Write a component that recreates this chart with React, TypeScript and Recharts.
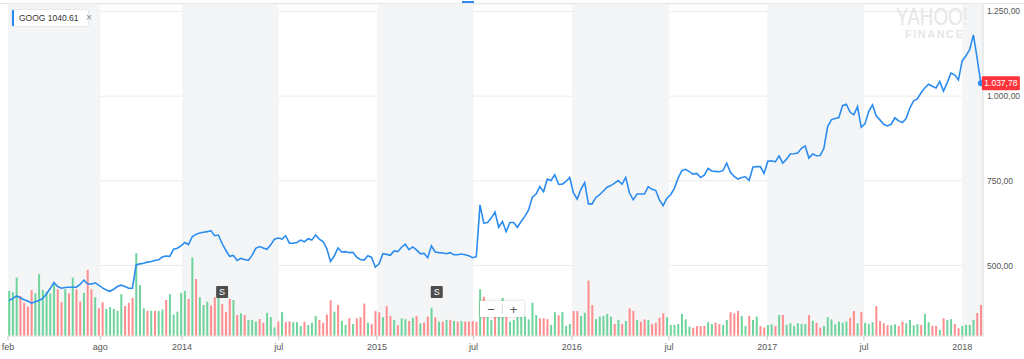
import {
  Bar,
  CartesianGrid,
  Cell,
  ComposedChart,
  Line,
  ReferenceArea,
  ReferenceDot,
  XAxis,
  YAxis,
} from 'recharts';

const FONT = '"Liberation Sans", Arial, Helvetica, sans-serif';
const DAY_MS = 86400000;
// primer punto semanal: lunes 11 feb 2013
const FIRST_WEEK = Date.UTC(2013, 1, 11);

// cierre semanal GOOG
const closes = [
  397, 403, 410, 405, 399, 395, 389, 393, 397, 403,
  416, 432, 450, 438, 433, 435, 436, 436, 436, 444,
  457, 446, 445, 449, 442, 434, 428, 424, 430, 438,
  442, 438, 433, 433, 502, 505, 507, 510, 512, 515,
  517, 525, 528, 527, 548, 551, 558, 568, 562, 585,
  592, 596, 598, 600, 603, 588, 590, 565, 545, 527,
  530, 515, 521, 518, 515, 530, 551, 556, 552, 548,
  561, 578, 581, 578, 588, 566, 566, 568, 575, 570,
  579, 575, 590, 578, 571, 550, 512, 528, 552, 540,
  541, 538, 539, 525, 518, 516, 529, 524, 495, 505,
  535, 533, 530, 543, 541, 554, 563, 547, 555, 546,
  535, 536, 523, 558, 540, 538, 537, 535, 538, 532,
  532, 534, 532, 529, 523, 526, 679, 625, 627, 640,
  658, 613, 630, 600, 627, 627, 613, 630, 645, 664,
  702, 711, 733, 718, 755, 751, 768, 740, 740, 748,
  760, 714, 696, 725, 745, 682, 682, 701, 709, 720,
  731, 736, 743, 751, 740, 760, 714, 694, 711, 711,
  711, 733, 725, 722, 694, 677, 699, 709, 728, 758,
  780, 784, 777, 770, 772, 760, 767, 787, 779, 778,
  777, 780, 802, 775, 763, 755, 760, 762, 751, 790,
  792, 792, 772, 808, 809, 806, 824, 802, 814, 829,
  830, 832, 846, 853, 817, 829, 824, 825, 846, 910,
  930, 934, 937, 972, 976, 953, 945, 969, 908, 918,
  955, 974, 942, 930, 917, 912, 917, 936, 927, 922,
  934, 965, 986, 992, 1010, 1024, 1035, 1029, 1024, 1043,
  1015, 1040, 1068, 1063, 1048, 1104, 1119, 1137, 1181, 1112,
  1037.78,
];

// volumen semanal (millones)
const volumes = [
  16.3, 15.8, 21.1, 14.5, 12.0, 10.6, 16.6, 15.4, 22.3, 16.6,
  16.0, 15.4, 19.3, 16.9, 12.2, 16.9, 15.4, 21.1, 16.9, 12.4,
  15.6, 23.9, 16.9, 14.0, 10.0, 12.2, 9.8, 10.4, 9.8, 9.1,
  15.1, 10.8, 12.0, 13.8, 29.9, 18.4, 10.0, 9.1, 9.1, 9.1,
  9.0, 9.6, 13.0, 15.1, 7.8, 8.8, 15.6, 16.3, 13.4, 28.4,
  20.6, 14.0, 11.2, 12.4, 11.0, 14.0, 14.8, 11.6, 8.6, 13.4,
  13.0, 7.6, 8.2, 7.6, 5.8, 5.8, 5.2, 6.1, 4.8, 8.4,
  6.8, 3.1, 5.2, 8.6, 5.1, 5.3, 5.0, 5.0, 3.6, 5.1,
  4.0, 4.8, 7.2, 5.8, 4.8, 7.8, 12.9, 8.8, 11.2, 5.5,
  4.0, 6.4, 4.3, 6.4, 6.8, 11.7, 4.8, 4.3, 9.0, 8.6,
  6.8, 10.8, 7.2, 5.8, 3.9, 6.4, 6.1, 5.4, 6.6, 7.2,
  4.6, 4.8, 7.0, 10.2, 6.8, 5.2, 5.2, 5.8, 5.8, 5.4,
  5.2, 5.4, 5.2, 5.2, 5.4, 5.1, 16.9, 14.2, 6.8, 5.8,
  7.0, 7.0, 13.8, 7.0, 5.2, 5.8, 7.0, 7.0, 7.0, 6.0,
  12.0, 7.6, 6.4, 6.4, 6.1, 4.0, 8.6, 7.5, 8.6, 3.6,
  4.3, 9.0, 9.0, 7.2, 8.4, 20.0, 11.2, 6.1, 7.0, 7.2,
  8.0, 7.0, 4.3, 5.8, 4.3, 5.4, 10.0, 9.1, 5.8, 5.2,
  6.0, 5.8, 4.3, 4.8, 6.6, 8.2, 6.8, 4.0, 4.0, 4.3,
  8.0, 6.0, 3.4, 3.0, 3.6, 3.6, 3.6, 5.0, 4.3, 4.8,
  4.3, 4.0, 5.8, 8.6, 8.2, 9.1, 7.2, 3.6, 7.3, 5.8,
  7.0, 3.6, 3.1, 4.0, 4.2, 3.6, 7.6, 7.6, 4.0, 4.6,
  3.6, 4.6, 4.3, 4.3, 7.6, 5.5, 4.8, 3.0, 3.6, 6.8,
  6.0, 4.2, 5.2, 4.8, 5.2, 6.6, 9.0, 4.6, 8.7, 4.8,
  4.3, 5.0, 10.8, 5.4, 4.6, 3.9, 3.9, 4.2, 3.6, 5.2,
  4.6, 5.8, 3.9, 4.3, 4.0, 8.0, 5.0, 3.7, 3.6, 2.2,
  6.4, 5.8, 6.1, 4.3, 2.8, 3.6, 4.0, 4.0, 5.8, 8.3,
  11.2,
];

// G = semana al alza, R = a la baja
const weekDirs =
  'GGGRRRRGGG' + 'GGGRRGRGRR' + 'GRRGRRGGGG' + 'GRRRGGGRGR' +
  'GGRGGGGGRG' + 'RGGGRRGRRR' + 'GRGRGGGRRG' + 'GGRGRRGGGR' +
  'GGGRRRRGRG' + 'GRGRRRGRRR' + 'GRRGRGGRGR' + 'GRRGRGRGRG' +
  'RGRRRRGRGG' + 'RGGRGGGGGG' + 'GGRRRGGRGG' + 'GRRGGRRGGG' +
  'GGRGRGRRGR' + 'RGRRRRGGGG' + 'GGGRRRRGGR' + 'RGGRRRGGRG' +
  'GRRGGRGRGG' + 'GGGGRGRRGG' + 'GGGGGRRGRG' + 'GGRRRRGGRR' +
  'GGGGRGGRRG' + 'RGGRRGGGGR' + 'R';

const tickLabels = ['feb', 'ago', '2014', 'jul', '2015', 'jul', '2016', 'jul', '2017', 'jul', '2018'];
const tickDates: [number, number, number][] = [
  [2013, 1, 9], [2013, 7, 1], [2014, 0, 1], [2014, 6, 1], [2015, 0, 1], [2015, 6, 1],
  [2016, 0, 1], [2016, 6, 1], [2017, 0, 1], [2017, 6, 1], [2018, 0, 1],
];
const priceTicks = [500, 750, 1000, 1250];

// semestres sombreados
const shadedRanges: [number, number, number][][] = [
  [[2013, 1, 9], [2013, 7, 1]],
  [[2014, 0, 1], [2014, 6, 1]],
  [[2015, 0, 1], [2015, 6, 1]],
  [[2016, 0, 1], [2016, 6, 1]],
  [[2017, 0, 1], [2017, 6, 1]],
  [[2018, 0, 1], [2018, 1, 9]],
];

// splits
const splitDates: [number, number, number][] = [[2014, 2, 17], [2015, 3, 23]];

const dayOf = ([y, m, d]: [number, number, number]) => (Date.UTC(y, m, d) - FIRST_WEEK) / DAY_MS;

const X_DOMAIN = [dayOf([2013, 1, 9]), dayOf([2018, 1, 9])];
const GREEN = '#6fd49c';
const RED = '#ff8d8d';
const BLUE = '#2b8cf0';

const data = closes.map((close, i) => ({
  t: i * 7,
  close,
  volume: volumes[i],
  up: weekDirs[i] === 'G',
}));

const tickDays = tickDates.map(dayOf);
const labelByDay = new Map(tickDays.map((d, i) => [d, tickLabels[i]]));

function formatPrice(v: number) {
  const [int, dec] = v.toFixed(2).split('.');
  return int.replace(/\B(?=(\d{3})+(?!\d))/g, '.') + ',' + dec;
}

function SplitMarker(props: any) {
  const { cx, cy } = props;
  return (
    <g>
      <rect x={cx - 6} y={cy - 50} width={12} height={12} rx={1} fill="#4d4d4d" />
      <text
        x={cx}
        y={cy - 44}
        textAnchor="middle"
        dominantBaseline="central"
        fill="#fff"
        fontSize={9}
        fontFamily={FONT}
      >
        S
      </text>
    </g>
  );
}

function LastPriceMarker(props: any) {
  const { cx, cy } = props;
  const last = closes[closes.length - 1];
  return (
    <g>
      <circle cx={cx} cy={cy} r={3} fill={BLUE} />
      <rect x={cx + 1} y={cy - 7} width={38} height={14} rx={1} fill="#ff333a" />
      <text
        x={cx + 20}
        y={cy}
        textAnchor="middle"
        dominantBaseline="central"
        fill="#fff"
        fontSize={8.5}
        fontFamily={FONT}
      >
        {formatPrice(last)}
      </text>
    </g>
  );
}

export default function App() {
  const last = data[data.length - 1];
  return (
    <div
      style={{
        position: 'absolute',
        left: 0,
        top: 0,
        width: 1024,
        height: 359,
        overflow: 'hidden',
        background: '#fff',
        fontFamily: FONT,
      }}
    >
      <div style={{ position: 'absolute', left: 0, top: 3, width: 1024, height: 1, background: '#e4e4e4' }} />
      <div style={{ position: 'absolute', left: 462, top: 1, width: 12, height: 2, background: BLUE }} />

      <ComposedChart
        width={1024}
        height={359}
        data={data}
        margin={{ top: 4, right: 0, bottom: 0, left: 8 }}
      >
        {shadedRanges.map(([a, b], i) => (
          <ReferenceArea
            key={`band-${i}`}
            yAxisId="price"
            x1={dayOf(a)}
            x2={dayOf(b)}
            fill="#f4f5f6"
            fillOpacity={1}
            stroke="none"
          />
        ))}
        <CartesianGrid yAxisId="price" vertical={false} stroke="#ebebeb" />
        <XAxis
          type="number"
          dataKey="t"
          domain={X_DOMAIN}
          allowDataOverflow
          ticks={tickDays}
          interval={0}
          tickFormatter={(v: number) => labelByDay.get(v) ?? ''}
          tick={{ fontSize: 9, fill: '#555', fontFamily: FONT }}
          tickLine={{ stroke: '#c8c8c8' }}
          tickSize={4}
          tickMargin={4}
          axisLine={{ stroke: '#e6e6e6' }}
          height={23}
        />
        <YAxis yAxisId="vol" hide domain={[0, 120]} />
        <YAxis
          yAxisId="price"
          orientation="right"
          domain={[292, 1272]}
          ticks={priceTicks}
          allowDataOverflow
          width={41}
          axisLine={{ stroke: '#dcdcdc' }}
          tickLine={false}
          tickSize={0}
          tickMargin={4}
          tick={{ fontSize: 8.5, fill: '#555', fontFamily: FONT, textAnchor: 'start' }}
          tickFormatter={formatPrice}
        />
        <Bar yAxisId="vol" dataKey="volume" barSize={2} isAnimationActive={false}>
          {data.map((d, i) => (
            <Cell key={`v-${i}`} fill={d.up ? GREEN : RED} />
          ))}
        </Bar>
        <Line
          yAxisId="price"
          type="linear"
          dataKey="close"
          stroke={BLUE}
          strokeWidth={1.6}
          dot={false}
          isAnimationActive={false}
        />
        {splitDates.map((d, i) => (
          <ReferenceDot
            key={`split-${i}`}
            yAxisId="vol"
            x={dayOf(d)}
            y={0}
            shape={SplitMarker}
          />
        ))}
        <ReferenceDot
          yAxisId="price"
          x={last.t}
          y={last.close}
          ifOverflow="visible"
          shape={LastPriceMarker}
        />
      </ComposedChart>

      {/* etiqueta de la serie */}
      <div
        style={{
          position: 'absolute',
          left: 12,
          top: 10,
          width: 76,
          height: 16,
          background: '#fff',
          borderLeft: `2px solid ${BLUE}`,
          boxShadow: '0 0 2px rgba(0,0,0,0.15)',
          fontSize: 8.5,
          lineHeight: '16px',
          color: '#333',
          paddingLeft: 5,
          boxSizing: 'border-box',
          whiteSpace: 'nowrap',
        }}
      >
        GOOG 1040.61 <span style={{ color: '#888', marginLeft: 5, fontSize: 10 }}>×</span>
      </div>

      {/* marca de agua */}
      <div
        style={{
          position: 'absolute',
          left: 896,
          top: 6,
          width: 80,
          color: '#e6e6e6',
          pointerEvents: 'none',
        }}
      >
        <div
          style={{
            fontSize: 23,
            lineHeight: '22px',
            whiteSpace: 'nowrap',
            transform: 'scaleX(0.82)',
            transformOrigin: 'left center',
          }}
        >
          YAHOO!
        </div>
        <div
          style={{
            fontSize: 11,
            lineHeight: '12px',
            fontWeight: 700,
            letterSpacing: 1.5,
            paddingLeft: 9,
            whiteSpace: 'nowrap',
          }}
        >
          FINANCE
        </div>
      </div>

      {/* control de zoom */}
      <div
        style={{
          position: 'absolute',
          left: 480,
          top: 301,
          width: 44,
          height: 16,
          background: '#fff',
          boxShadow: '0 0 3px rgba(0,0,0,0.2)',
          display: 'flex',
          alignItems: 'center',
          fontSize: 13,
          color: '#555',
        }}
      >
        <span style={{ width: 22, textAlign: 'center' }}>−</span>
        <span style={{ width: 1, height: 10, background: '#ddd' }} />
        <span style={{ width: 21, textAlign: 'center' }}>+</span>
      </div>
    </div>
  );
}
